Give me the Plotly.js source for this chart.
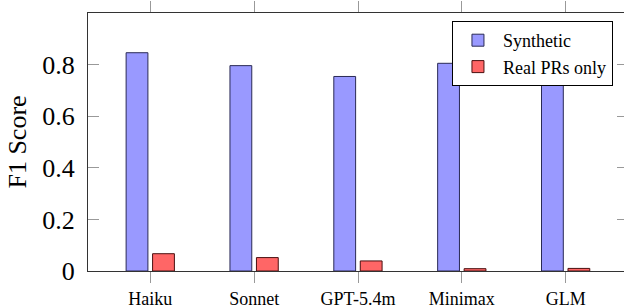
<!DOCTYPE html>
<html><head><meta charset="utf-8">
<script src="https://cdn.plot.ly/plotly-3.0.1.min.js"></script>
<style>html,body{margin:0;padding:0;overflow:hidden;background:#fff;}</style>
</head><body>
<div id="chart"></div>
<script>
const models = ["Haiku", "Sonnet", "GPT-5.4m", "Minimax", "GLM"];
const synthetic = [0.846, 0.796, 0.754, 0.805, 0.78];
const realPRs = [0.067, 0.052, 0.039, 0.009, 0.010];
const yTickVals = [0, 0.2, 0.4, 0.6, 0.8];
const yTickText = ["0", "0.2", "0.4", "0.6", "0.8"];

const serif = "Liberation Serif";
const xIdx = models.map((_, i) => i);

const traces = [
  {type: "bar", name: "Synthetic", x: xIdx, y: synthetic,
   width: 0.21, offset: -0.233, legendgroup: "a",
   marker: {color: "#9999ff", line: {color: "#2a2a55", width: 1}}},
  {type: "bar", name: "Real PRs only", x: xIdx, y: realPRs,
   width: 0.21, offset: 0.022, legendgroup: "b",
   marker: {color: "#ff6666", line: {color: "#4a1010", width: 1}}}
];

const layout = {
  width: 630, height: 308,
  margin: {l: 88, r: 2, t: 13, b: 37},
  paper_bgcolor: "#fff", plot_bgcolor: "#fff",
  font: {family: serif, color: "#000"},
  barmode: "overlay",
  showlegend: true,
  legend: {x: 0.674, y: 0.969, xanchor: "left", yanchor: "top",
           bordercolor: "#000", borderwidth: 1, bgcolor: "#fff",
           font: {family: serif, size: 18, color: "#000"},
           tracegroupgap: 8, traceorder: "normal", itemwidth: 40},
  xaxis: {range: [-0.6, 4.6], tickmode: "array", tickvals: xIdx, ticktext: models,
          ticks: "outside", ticklen: 11, tickcolor: "#999", tickwidth: 1,
          showline: true, linecolor: "#333", linewidth: 1, mirror: "ticks",
          showgrid: false, zeroline: false, fixedrange: true,
          tickfont: {family: serif, size: 18, color: "#000"}},
  yaxis: {range: [0, 1], tickmode: "array", tickvals: yTickVals, ticktext: yTickText,
          ticks: "inside", ticklen: 11, tickcolor: "#999", tickwidth: 1,
          ticklabelstandoff: 7,
          showline: true, linecolor: "#333", linewidth: 1, mirror: "ticks",
          showgrid: false, zeroline: false,
          tickfont: {family: serif, size: 26, color: "#000"},
          title: {text: "F1 Score", font: {family: serif, size: 26, color: "#000"}, standoff: 8}}
};

Plotly.newPlot("chart", traces, layout, {displayModeBar: false, staticPlot: true});
</script>
</body></html>
